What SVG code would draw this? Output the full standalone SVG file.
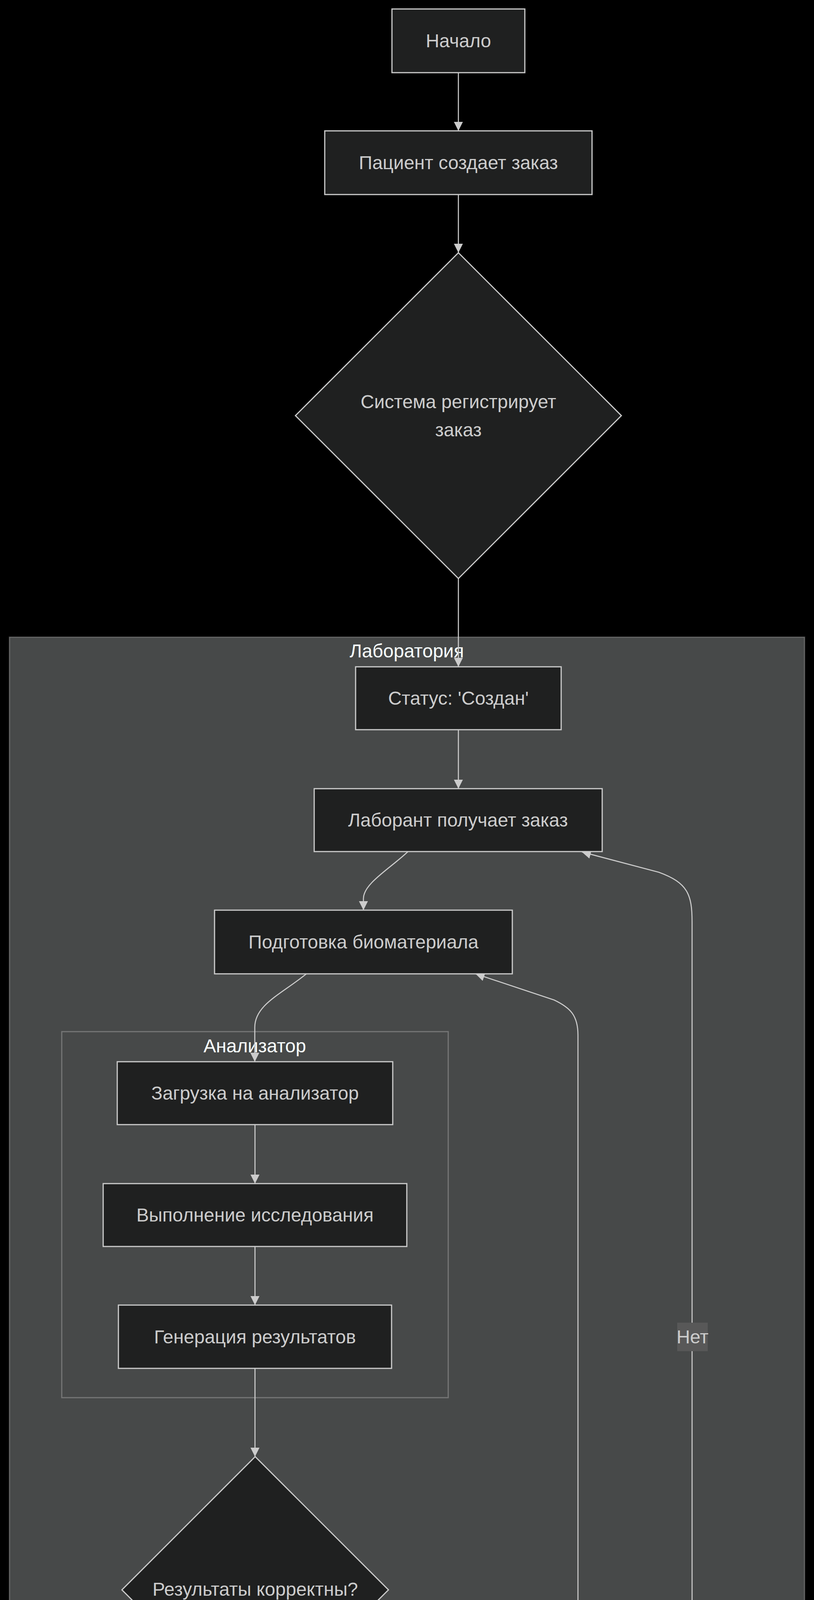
<svg xmlns="http://www.w3.org/2000/svg" width="2083" height="7429" viewBox="0 0 2083 7429">
<defs>
<style>
.bg{fill:#000000}
.cluster{fill:#474949;stroke:rgba(255,255,255,0.25);stroke-width:3}
.ctitle{fill:#F9FFFE;font-family:"Liberation Sans",Arial,sans-serif;font-size:48px;text-anchor:middle}
.node{fill:#1f2020;stroke:#cccccc;stroke-width:3}
.t{fill:#cccccc;font-family:"Liberation Sans",Arial,sans-serif;font-size:48px;text-anchor:middle;dominant-baseline:central}
.e{fill:none;stroke:#cccccc;stroke-width:2.7;marker-end:url(#arr)}
.lbg{fill:#585858}
</style>
<marker id="arr" viewBox="0 0 10 10" refX="10" refY="5" markerUnits="userSpaceOnUse" markerWidth="23" markerHeight="24" orient="auto">
<path d="M0,0 L10,5 L0,10 z" fill="#cccccc"/>
</marker>
</defs>
<rect class="bg" x="0" y="0" width="2083" height="7429"/>

<g id="cluster-lab">
<rect class="cluster" x="24" y="1631" width="2035" height="4382"/>
<text class="ctitle" x="1041" y="1683">Лаборатория</text>
</g>
<g id="cluster-analyzer">
<rect class="cluster" x="158" y="2641" width="989" height="937"/>
<text class="ctitle" x="652" y="2694">Анализатор</text>
</g>

<g id="edges">
<path class="e" d="M1173,186 L1173,335"/>
<path class="e" d="M1173,498 L1173,647"/>
<path class="e" d="M1173,1481 L1173,1707"/>
<path class="e" d="M1173,1868 L1173,2019"/>
<path class="e" d="M1044,2180 C1000,2222 930,2262 930,2300 L930,2330"/>
<path class="e" d="M784,2493 C720,2545 652,2572 652,2630 L652,2718"/>
<path class="e" d="M652.5,2879 L652.5,3030"/>
<path class="e" d="M652.5,3191 L652.5,3341"/>
<path class="e" d="M652.5,3503 L652.5,3729"/>
<path class="e" d="M589,4347 L562,4470 Q548,4530 548,4580 L548,4632"/>
<path class="e" d="M812,4254 C900,4358 960,4440 1040,4508 S1150,4597 1190,4632"/>
<path class="e" d="M547.5,4795 L547.5,4943"/>
<path class="e" d="M1383,4632 C1450,4540 1479,4450 1479,4330 L1479,2650 C1479,2600 1460,2580 1418,2560 L1217,2493"/>
<path class="e" d="M547,5106 L547,5130 C547,5200 580,5240 680,5300 L963,5463"/>
<path class="e" d="M1378,5457 C1550,5350 1771,5200 1771,5066 L1771,2360 C1771,2290 1760,2260 1686,2233 L1489,2181"/>
<path class="e" d="M1172,5937 L1172,6235"/>
<path class="e" d="M1172,6397 L1172,6547"/>
<path class="e" d="M1172,6709 L1172,6859"/>
<path class="e" d="M1172,7093 L1172,7242"/>
</g>

<g id="edge-labels">
<g id="lbl-yes1"><rect class="lbg" x="519" y="4485" width="58" height="72"/><text class="t" x="548" y="4521">Да</text></g>
<g id="lbl-no1"><rect class="lbg" x="995" y="4485" width="78" height="72"/><text class="t" x="1034" y="4521">Нет</text></g>
<g id="lbl-no2"><rect class="lbg" x="1733" y="3386" width="78" height="73"/><text class="t" x="1772" y="3422">Нет</text></g>
<g id="lbl-yes2"><rect class="lbg" x="1144" y="6088" width="57" height="72"/><text class="t" x="1172" y="6124">Да</text></g>
</g>

<g id="n-start"><rect class="node" x="1003" y="23" width="340" height="163"/><text class="t" x="1173" y="104">Начало</text></g>
<g id="n-create"><rect class="node" x="831" y="335" width="684" height="163"/><text class="t" x="1173" y="416">Пациент создает заказ</text></g>
<g id="n-register"><polygon class="node" points="1173,647 1590,1064 1173,1481 756,1064"/><text class="t" x="1173" y="1028">Система регистрирует</text><text class="t" x="1173" y="1100">заказ</text></g>
<g id="n-created"><rect class="node" x="910" y="1707" width="526" height="161"/><text class="t" x="1173" y="1787">Статус: 'Создан'</text></g>
<g id="n-labtech"><rect class="node" x="804" y="2019" width="737" height="161"/><text class="t" x="1172" y="2099">Лаборант получает заказ</text></g>
<g id="n-prep"><rect class="node" x="549" y="2330" width="762" height="163"/><text class="t" x="930" y="2411">Подготовка биоматериала</text></g>
<g id="n-load"><rect class="node" x="300" y="2718" width="705" height="161"/><text class="t" x="652.5" y="2798">Загрузка на анализатор</text></g>
<g id="n-exec"><rect class="node" x="264" y="3030" width="777" height="161"/><text class="t" x="652.5" y="3110">Выполнение исследования</text></g>
<g id="n-gen"><rect class="node" x="303" y="3341" width="699" height="162"/><text class="t" x="652.5" y="3422">Генерация результатов</text></g>
<g id="n-correct"><polygon class="node" points="653,3729 994,4070 653,4411 312,4070"/><text class="t" x="653" y="4068">Результаты корректны?</text></g>
<g id="n-enter"><rect class="node" x="263" y="4632" width="569" height="163"/><text class="t" x="547.5" y="4713">Ввод результатов</text></g>
<g id="n-repeat"><rect class="node" x="982" y="4632" width="661" height="163"/><text class="t" x="1312.5" y="4713">Повтор исследования</text></g>
<g id="n-service"><rect class="node" x="158" y="4943" width="777" height="163"/><text class="t" x="546.5" y="5024">Статус услуги: 'Выполнена'</text></g>
<g id="n-all"><polygon class="node" points="1172,5257 1512,5597 1172,5937 832,5597"/><text class="t" x="1172" y="5595">Все услуги выполнены?</text></g>
<g id="n-orderdone"><rect class="node" x="798" y="6235" width="748" height="162"/><text class="t" x="1172" y="6316">Статус заказа: 'Выполнен'</text></g>
<g id="n-notify"><rect class="node" x="823" y="6547" width="698" height="162"/><text class="t" x="1172" y="6628">Уведомление пациента</text></g>
<g id="n-gets"><rect class="node" x="782" y="6859" width="780" height="234"/><text class="t" x="1172" y="6940">Пациент получает</text><text class="t" x="1172" y="7012">результаты</text></g>
<g id="n-end"><rect class="node" x="1015" y="7242" width="315" height="162"/><text class="t" x="1172.5" y="7323">Конец</text></g>
</svg>
